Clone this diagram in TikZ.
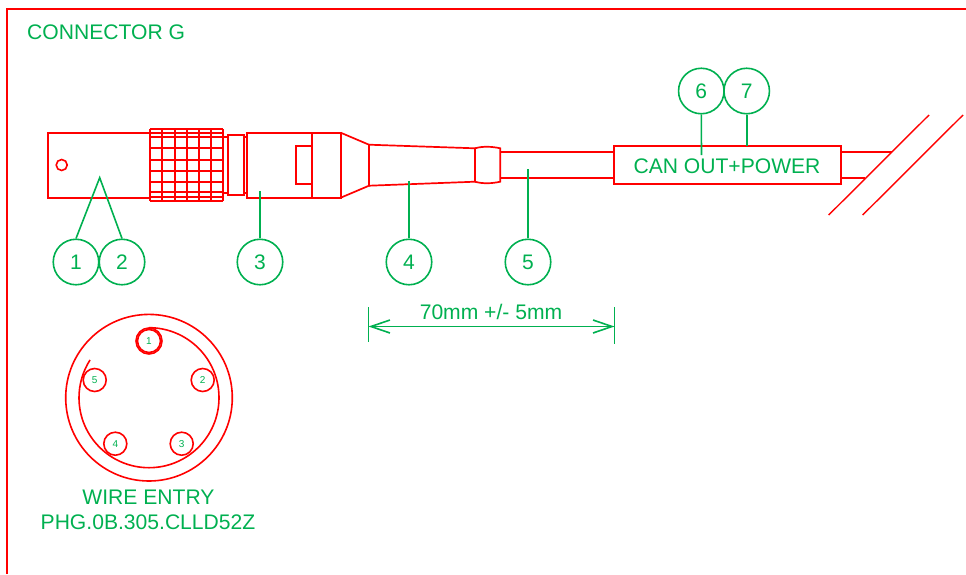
\documentclass[tikz,border=0pt]{standalone}
\usepackage{fontspec}
\setmainfont{Liberation Sans}
\usepackage{tikz}
\usetikzlibrary{
  arrows.meta,
  positioning
}
\definecolor{wirered}{RGB}{255,0,0}
\definecolor{notegreen}{RGB}{0,176,80}

\begin{document}
\begin{tikzpicture}[
      x=1pt,y=-1pt,
      part/.style={draw=wirered,line width=1.7pt},
      thin part/.style={draw=wirered,line width=1.4pt},
      balloon/.style={
         circle,
         draw=notegreen,
         line width=1.6pt,
         minimum size=45.5pt,
         inner sep=0pt,
         text=notegreen,
         font=\fontsize{21}{21}\selectfont
      },
      pin/.style={
         circle,
         draw=wirered,
         line width=1.6pt,
         minimum size=23pt,
         inner sep=0pt,
         text=notegreen,
         font=\fontsize{10}{10}\selectfont
      },
      label/.style={
         text=notegreen,
         inner sep=0pt,
         font=\fontsize{21.1}{21.1}\selectfont
      },
      leader/.style={draw=notegreen,line width=1.6pt},
      point/.style={coordinate},
      barb/.style={{Straight Barb[length=19pt,width=13pt]}-{Straight Barb[length=19pt,width=13pt]}}
    ]
    \useasboundingbox (0,0) rectangle (966,574);
    % frame
    \draw[wirered,line width=2pt] (6.5,574) -- (6.5,9) -- (966,9);
    \node (title) [label,anchor=west] at (27,32) {CONNECTOR G};
    % connector body
    \draw[part] (150,132.7) -- (48,132.7) -- (48,197.7) -- (150,197.7);
    \node (hole) [circle,draw=wirered,line width=1.6pt,minimum size=11pt,inner sep=0pt] at (61.7,165) {};
    \foreach \x in {150,162.3,174.7,187,199.3,211.3,223.3}
      \draw[part] (\x,129.3) -- (\x,201);
    \foreach \y in {129.3,132.7,136.7,148.3,160,171,182.3,191.7,197.3,201}
      \draw[part] (150,\y) -- (223.3,\y);
    \draw[part] (223.3,136.7) -- (246.7,136.7);
    \draw[part] (223.3,193.3) -- (246.7,193.3);
    \draw[part,fill=white] (228.3,135) rectangle (244,195);
    \draw[part] (246.7,132.7) rectangle (340.7,197.7);
    \draw[part] (312,132.7) -- (312,197.7);
    \draw[part] (312,145.7) -- (296,145.7) -- (296,183.7) -- (312,183.7);
    % strain relief and cable
    \draw[part] (340.7,132.7) -- (369,144.7) -- (369,185.7) -- (340.7,197.7);
    \draw[part] (369,144.7) -- (475,148.3) -- (475,181.7) -- (369,185.7);
    \draw[part] (475,148.3) .. controls (483,146) and (492,146.5) .. (500.3,148.3) -- (500.3,181.7)
       .. controls (492,183.5) and (483,184) .. (475,181.7);
    \draw[part] (500.3,152) -- (614,152);
    \draw[part] (500.3,178.3) -- (614,178.3);
    \node (canbox) [draw=wirered,line width=2.2pt,minimum width=226.7pt,minimum height=38pt,inner sep=0pt] at (727.3,165) {};
    \node (cantext) [label] at (727,166) {CAN OUT+POWER};
    \draw[part] (canbox.east |- 0,152.3) -- (892.3,152.3);
    \draw[part] (canbox.east |- 0,178) -- (865,178);
    \draw[thin part] (929,115) -- (828.7,215);
    \draw[thin part] (963,115) -- (862.7,215);
    % balloons
    \node (n1) [balloon] at (76,262) {1};
    \node (n2) [balloon] at (122,262) {2};
    \node (n3) [balloon] at (260,262) {3};
    \node (n4) [balloon] at (409,262) {4};
    \node (n5) [balloon] at (528,262) {5};
    \node (n6) [balloon] at (701.3,91) {6};
    \node (n7) [balloon] at (746.7,91) {7};
    \node (apex) [point] at (99.7,177.7) {};
    \node (p3) [point] at (260,191) {};
    \node (p4) [point] at (409,181) {};
    \node (p5) [point] at (528,169.3) {};
    \node (p6) [point] at (701.5,155) {};
    \node (p7) [point] at (746.7,146) {};
    \draw[leader] (n1.north) -- (apex) -- (n2.north);
    \draw[leader] (n3) -- (p3);
    \draw[leader] (n4) -- (p4);
    \draw[leader] (n5) -- (p5);
    \draw[leader] (n6.south) -- (p6);
    \draw[leader] (n7) -- (p7);
    % length
    \node (d1) [point] at (368.5,326.5) {};
    \node (d2) [point] at (614.5,326.5) {};
    \draw[leader] (368.5,307) -- (368.5,342);
    \draw[leader] (614.5,307) -- (614.5,344);
    \draw[leader,barb] (d1) -- (d2);
    \node (length) [label] at (491,312) {70mm +/- 5mm};
    % wire entry view
    \node (face) [circle,draw=wirered,line width=1.6pt,minimum size=166.6pt,inner sep=0pt] at (149,397.7) {};
    \draw[wirered,line width=1.6pt] (149,327.7) arc[start angle=90,end angle=-212.6,radius=70pt];
    \node (pin1) [pin] at (149,341) {1};
    \node (ring1) [circle,draw=wirered,line width=1.6pt,minimum size=26pt,inner sep=0pt] at (pin1) {};
    \node (pin2) [pin] at (202.7,380) {2};
    \node (pin3) [pin] at (181.7,443.7) {3};
    \node (pin4) [pin] at (115.3,443.7) {4};
    \node (pin5) [pin] at (94.7,380) {5};
    \node (entry) [label] at (148.5,497) {WIRE ENTRY};
    \node (partno) [label] at (148,522) {PHG.0B.305.CLLD52Z};
\end{tikzpicture}
\end{document}
